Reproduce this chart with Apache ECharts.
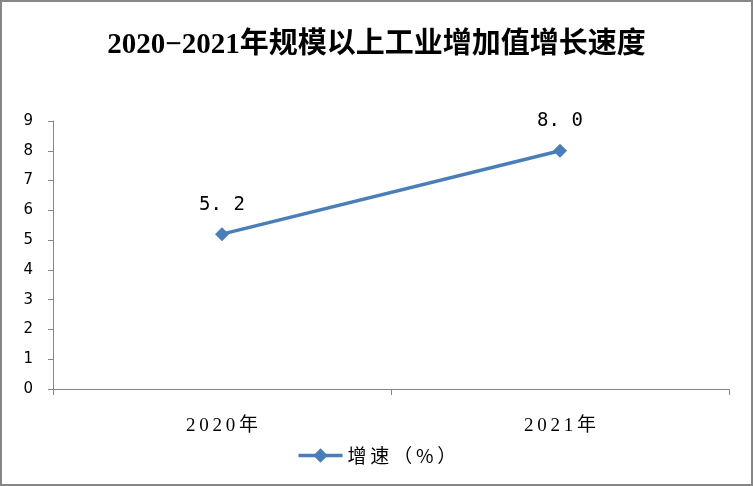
<!DOCTYPE html>
<html><head><meta charset="utf-8">
<script src="https://cdn.jsdelivr.net/npm/echarts@6/dist/echarts.min.js"></script>
<style>html,body{margin:0;padding:0;background:#fff}#c{width:753px;height:486px}</style>
</head><body><div id="c"></div>
<script>
const titleText = '2020−2021年规模以上工业增加值增长速度';
const categories = ['2020年', '2021年'];
const seriesName = '增速（%）';
const growth = [5.2, 8.0];
const yTicks = [0, 9, 1];

const spaced = s => s.split('').join('\u2009');

const chart = echarts.init(document.getElementById('c'));
chart.setOption({
  backgroundColor: '#fff',
  animation: false,
  title: {
    text: titleText, left: 'center', top: 26,
    textStyle: { fontFamily: 'Liberation Serif, "Noto Sans CJK SC"', fontWeight: 'bold', fontSize: 29, color: '#000' }
  },
  graphic: [{
    type: 'rect', shape: { x: 1, y: 1, width: 751, height: 484 },
    style: { fill: 'none', stroke: '#868686', lineWidth: 2 }, silent: true
  }],
  grid: { left: 53, right: 24, top: 121, bottom: 97 },
  legend: {
    bottom: 16, left: 'center', itemWidth: 44, itemHeight: 18, itemGap: 6,
    data: [seriesName],
    lineStyle: { width: 3.5 },
    formatter: n => spaced(n),
    textStyle: { fontFamily: '"Noto Sans CJK SC"', fontSize: 19, color: '#000' }
  },
  xAxis: {
    type: 'category', data: categories, boundaryGap: true,
    axisLine: { lineStyle: { color: '#868686', width: 1 } },
    axisTick: { show: true, length: 6, lineStyle: { color: '#868686' } },
    axisLabel: { margin: 28, color: '#000', fontSize: 19, fontFamily: 'Liberation Serif, "Noto Sans CJK SC"',
      formatter: v => v.split('').join('\u2009') }
  },
  yAxis: {
    type: 'value', min: yTicks[0], max: yTicks[1], interval: yTicks[2],
    axisLine: { show: true, lineStyle: { color: '#868686' } },
    axisTick: { show: true, length: 5, lineStyle: { color: '#868686' } },
    splitLine: { show: false },
    axisLabel: { margin: 20, color: '#000', fontSize: 15, fontFamily: 'DejaVu Sans' }
  },
  series: [{
    name: seriesName, type: 'line', data: growth,
    symbol: 'diamond', symbolSize: 14,
    lineStyle: { color: '#4A7EBB', width: 3.5 },
    itemStyle: { color: '#4A7EBB' },
    label: {
      show: true, position: 'top', distance: 13, color: '#000', fontSize: 19,
      fontFamily: 'DejaVu Sans Mono',
      formatter: p => p.value.toFixed(1).split('').join(' ').replace(' . ', '. ')
    }
  }]
});
</script></body></html>
